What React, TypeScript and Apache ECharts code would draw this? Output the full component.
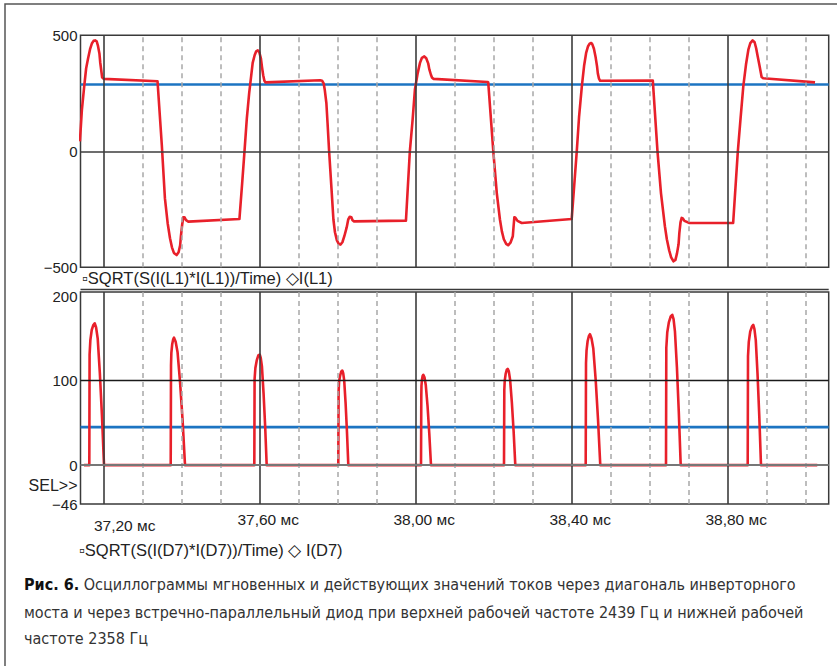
import React, { useEffect, useRef } from "react";
import * as echarts from "echarts";

// ---- axis ticks / labels ----
const X_MIN = 37.1405;
const X_MAX = 39.059;
const majorTicks = [37.2, 37.6, 38.0, 38.4, 38.8];
const majorTickLabels = ["37,20 мс", "37,60 мс", "38,00 мс", "38,40 мс", "38,80 мс"];
const minorTicks = [37.3, 37.4, 37.5, 37.7, 37.8, 37.9, 38.1, 38.2, 38.3, 38.5, 38.6, 38.7, 38.9, 39.0];
const topYTicks = [-500, 0, 500];
const topYLabels = ["−500", "0", "500"];
const bottomYTicks = [-46, 0, 100, 200];
const bottomYLabels = ["−46", "0", "100", "200"];

// ---- I(L1), A (time in ms) ----
const iL1: [number, number][] = [
  [37.139, 43], [37.144, 177], [37.150, 280], [37.155, 358], [37.160, 401], [37.165, 440],
  [37.170, 466], [37.174, 476], [37.178, 478], [37.182, 474], [37.185, 457], [37.189, 422],
  [37.191, 384], [37.194, 345], [37.196, 319], [37.200, 312],
  [37.338, 302], [37.349, 27], [37.357, -203], [37.364, -310], [37.370, -375], [37.375, -414],
  [37.380, -438], [37.387, -447], [37.392, -435], [37.396, -405], [37.398, -366], [37.401, -319],
  [37.404, -284], [37.407, -284], [37.411, -297], [37.417, -303],
  [37.548, -292], [37.555, -138], [37.561, 0], [37.567, 142], [37.573, 251], [37.578, 323],
  [37.582, 381], [37.587, 414], [37.591, 431], [37.595, 435], [37.599, 427], [37.603, 401],
  [37.606, 362], [37.609, 328], [37.612, 304], [37.615, 297],
  [37.755, 306], [37.760, 304], [37.764, 293], [37.767, 263], [37.771, 207], [37.774, 121],
  [37.778, 0], [37.784, -159], [37.789, -294], [37.793, -349], [37.798, -384], [37.803, -400],
  [37.807, -402], [37.812, -392], [37.817, -366], [37.823, -328], [37.827, -294], [37.831, -282],
  [37.835, -284], [37.838, -297], [37.842, -302],
  [37.975, -299], [37.985, 0], [37.992, 134], [37.998, 266], [38.005, 336], [38.011, 381],
  [38.016, 403], [38.022, 409], [38.027, 401], [38.032, 379], [38.035, 353], [38.039, 330],
  [38.042, 317], [38.046, 312],
  [38.184, 299], [38.186, 297], [38.199, 0], [38.208, -181], [38.216, -294], [38.221, -345],
  [38.226, -379], [38.232, -399], [38.237, -405], [38.243, -394], [38.249, -366], [38.251, -323],
  [38.253, -284], [38.256, -287], [38.261, -300], [38.272, -309],
  [38.400, -292], [38.413, 0], [38.419, 151], [38.426, 280], [38.432, 371], [38.437, 424],
  [38.442, 453], [38.446, 464], [38.450, 467], [38.453, 461], [38.457, 442], [38.461, 409],
  [38.465, 366], [38.467, 336], [38.470, 313], [38.473, 304],
  [38.608, 305], [38.620, 0], [38.629, -181], [38.639, -323], [38.644, -379], [38.650, -427],
  [38.655, -457], [38.661, -474], [38.666, -468], [38.670, -440], [38.674, -401], [38.676, -353],
  [38.679, -306], [38.682, -287], [38.685, -289], [38.689, -300], [38.702, -309],
  [38.814, -309], [38.826, 0], [38.833, 142], [38.840, 280], [38.847, 375], [38.853, 438],
  [38.858, 466], [38.864, 478], [38.869, 470], [38.873, 444], [38.877, 409], [38.882, 366],
  [38.885, 338], [38.887, 320], [38.891, 315],
  [39.024, 297],
];
const rmsL1 = 288;

// ---- I(D7), A ----
const iD7: [number, number][] = [
  [37.1495, 0],
  [37.1631, 0], [37.1638, 131], [37.1658, 148], [37.1693, 160], [37.1735, 166], [37.1769, 168],
  [37.1805, 163], [37.1846, 150], [37.1901, 109], [37.1955, 59], [37.2008, 0],
  [37.3718, 0], [37.3726, 118], [37.3735, 133], [37.3756, 143], [37.3782, 149], [37.3803, 151],
  [37.3845, 146], [37.3893, 134], [37.3958, 98], [37.4023, 53], [37.4085, 0],
  [37.5862, 0], [37.5869, 102], [37.5889, 115], [37.5924, 124], [37.5965, 130], [37.6000, 131],
  [37.6027, 127], [37.6057, 117], [37.6099, 85], [37.6140, 46], [37.6179, 0],
  [37.8015, 0], [37.8023, 87], [37.8036, 99], [37.8062, 106], [37.8092, 111], [37.8118, 112],
  [37.8141, 109], [37.8167, 100], [37.8203, 73], [37.8238, 39], [37.8272, 0],
  [38.0136, 0], [38.0144, 83], [38.0148, 94], [38.0163, 102], [38.0180, 106], [38.0195, 107],
  [38.0225, 104], [38.0258, 95], [38.0304, 70], [38.0349, 37], [38.0392, 0],
  [38.2264, 0], [38.2272, 89], [38.2283, 100], [38.2307, 108], [38.2335, 113], [38.2359, 114],
  [38.2388, 111], [38.2421, 101], [38.2466, 74], [38.2511, 40], [38.2554, 0],
  [38.4359, 0], [38.4367, 121], [38.4381, 136], [38.4409, 147], [38.4442, 153], [38.4469, 155],
  [38.4509, 150], [38.4554, 138], [38.4615, 101], [38.4675, 54], [38.4733, 0],
  [38.6418, 0], [38.6426, 139], [38.6450, 157], [38.6491, 169], [38.6539, 176], [38.6579, 178],
  [38.6612, 173], [38.6648, 158], [38.6698, 116], [38.6747, 62], [38.6795, 0],
  [38.8513, 0], [38.8521, 129], [38.8541, 146], [38.8577, 158], [38.8621, 164], [38.8656, 166],
  [38.8686, 161], [38.8720, 148], [38.8765, 108], [38.8810, 58], [38.8854, 0],
  [39.0297, 0],
];
const rmsD7 = 45;

const legendTop = "▫SQRT(S(I(L1)*I(L1))/Time) ◇I(L1)";
const legendBottom = "▫SQRT(S(I(D7)*I(D7))/Time) ◇ I(D7)";
const captionLines = [
  "{b|Рис. 6.} Осциллограммы мгновенных и действующих значений токов через диагональ инверторного",
  "моста и через встречно-параллельный диод при верхней рабочей частоте 2439 Гц и нижней рабочей",
  "частоте 2358 Гц",
];

const FONT = "'Liberation Sans', Arial, sans-serif";
const CAP_FONT = "'DejaVu Sans Condensed', 'Liberation Sans Narrow', Roboto, sans-serif";
const RED = "#e8202a";
const BLUE = "#1c74c2";

const GRID_LEFT = 80.5;
const GRID_W = 748.2;

function gridLineSeries(xi: number, hLines: { y: number; color: string; width: number }[]) {
  const data: any[] = [];
  minorTicks.forEach((t) =>
    data.push({ xAxis: t, lineStyle: { color: "#a8a8a8", width: 1.5, type: [5, 4] } })
  );
  majorTicks.forEach((t) =>
    data.push({ xAxis: t, lineStyle: { color: "#3c3c3c", width: 1.6, type: "solid" } })
  );
  hLines.forEach((h) =>
    data.push({ yAxis: h.y, lineStyle: { color: h.color, width: h.width, type: "solid" } })
  );
  return {
    type: "line",
    xAxisIndex: xi,
    yAxisIndex: xi,
    data: [],
    z: 1,
    silent: true,
    markLine: {
      silent: true,
      symbol: ["none", "none"],
      label: { show: false },
      animation: false,
      data,
    },
  };
}

export default function App() {
  const ref = useRef<HTMLDivElement>(null);
  useEffect(() => {
    if (!ref.current) return;
    const chart = echarts.init(ref.current, undefined, { renderer: "svg" });
    const axisLabelBase = { color: "#222", fontSize: 15, fontFamily: FONT };
    const xLabelBase = { color: "#222", fontSize: 15.5, fontFamily: FONT };
    const option: any = {
      animation: false,
      backgroundColor: "#fff",
      grid: [
        {
          left: GRID_LEFT, top: 35.3, width: GRID_W, height: 232, show: true,
          borderColor: "#3a3a3a", borderWidth: 1.5, containLabel: false, outerBoundsMode: "none",
        },
        {
          left: GRID_LEFT, top: 292, width: GRID_W, height: 212, show: true,
          borderColor: "#3a3a3a", borderWidth: 1.5, containLabel: false, outerBoundsMode: "none",
        },
      ],
      xAxis: [
        {
          gridIndex: 0, type: "value", min: X_MIN, max: X_MAX,
          axisLine: { show: false }, axisTick: { show: false }, axisLabel: { show: false },
          splitLine: { show: false },
        },
        {
          gridIndex: 1, type: "value", min: X_MIN, max: X_MAX,
          axisLine: { show: false }, axisTick: { show: false }, splitLine: { show: false },
          axisLabel: {
            ...xLabelBase,
            customValues: majorTicks,
            margin: 7,
            formatter: (v: number) => {
              const i = majorTicks.findIndex((t) => Math.abs(t - v) < 1e-6);
              if (i < 0) return "";
              return i === 0 ? `{f|${majorTickLabels[i]}}` : `{r|${majorTickLabels[i]}}`;
            },
            rich: {
              f: { ...xLabelBase, padding: [6, 0, 0, 42] },
              r: { ...xLabelBase, padding: [0, 0, 0, 17] },
            },
          },
        },
      ],
      yAxis: [
        {
          gridIndex: 0, type: "value", min: -500, max: 500,
          axisLine: { show: false }, axisTick: { show: false }, splitLine: { show: false },
          axisLabel: {
            ...axisLabelBase, margin: 3, customValues: topYTicks,
            formatter: (v: number) => topYLabels[topYTicks.indexOf(v)] ?? "",
          },
        },
        {
          gridIndex: 1, type: "value", min: -46, max: 205,
          axisLine: { show: false }, axisTick: { show: false }, splitLine: { show: false },
          axisLabel: {
            ...axisLabelBase, margin: 3, customValues: bottomYTicks,
            formatter: (v: number) => bottomYLabels[bottomYTicks.indexOf(v)] ?? "",
          },
        },
      ],
      series: [
        gridLineSeries(0, [{ y: 0, color: "#3c3c3c", width: 1.6 }]),
        gridLineSeries(1, [
          { y: 100, color: "#1a1a1a", width: 1.3 },
          { y: 0, color: "#777", width: 2 },
        ]),
        {
          type: "line", xAxisIndex: 0, yAxisIndex: 0, z: 2, showSymbol: false, silent: true,
          data: [[X_MIN, rmsL1], [X_MAX, rmsL1]],
          lineStyle: { color: BLUE, width: 2.6 },
        },
        {
          type: "line", xAxisIndex: 1, yAxisIndex: 1, z: 2, showSymbol: false, silent: true,
          data: [[X_MIN, rmsD7], [X_MAX, rmsD7]],
          lineStyle: { color: BLUE, width: 2.6 },
        },
        {
          type: "line", xAxisIndex: 0, yAxisIndex: 0, z: 3, showSymbol: false, silent: true,
          data: iL1, smooth: false,
          lineStyle: { color: RED, width: 2.6, join: "round" },
        },
        {
          type: "line", xAxisIndex: 1, yAxisIndex: 1, z: 3, showSymbol: false, silent: true,
          data: iD7, smooth: false,
          lineStyle: { color: RED, width: 2.6, join: "round" },
        },
      ],
      graphic: [
        {
          type: "rect", shape: { x: 5, y: 4, width: 1000, height: 1000 }, silent: true, z: 0,
          style: { fill: "none", stroke: "#555", lineWidth: 1.5 },
        },
        {
          type: "line", shape: { x1: GRID_LEFT, y1: 289.5, x2: GRID_LEFT + GRID_W, y2: 289.5 }, silent: true,
          style: { stroke: "#3a3a3a", lineWidth: 1.3 },
        },
        {
          type: "text", x: 82, y: 277.5, silent: true,
          style: { text: legendTop, font: `16.5px ${FONT}`, fill: "#222", textVerticalAlign: "middle" },
        },
        {
          type: "text", x: 79, y: 550, silent: true,
          style: { text: legendBottom, font: `16.5px ${FONT}`, fill: "#222", textVerticalAlign: "middle" },
        },
        {
          type: "text", x: 77.5, y: 485.5, silent: true,
          style: { text: "SEL>>", font: `16px ${FONT}`, fill: "#222", textAlign: "right", textVerticalAlign: "middle" },
        },
        ...captionLines.map((line, i) => ({
          type: "text", x: 24, y: [584, 612, 638][i], silent: true,
          style: {
            text: line, font: `16px ${CAP_FONT}`, fill: "#333", textVerticalAlign: "middle",
            rich: { b: { font: `bold 16px ${CAP_FONT}`, fill: "#111" } },
          },
        })),
      ],
    };
    chart.setOption(option);
    return () => chart.dispose();
  }, []);
  return (
    <div
      ref={ref}
      style={{ position: "absolute", left: 0, top: 0, width: 837, height: 666, background: "#fff" }}
    />
  );
}
